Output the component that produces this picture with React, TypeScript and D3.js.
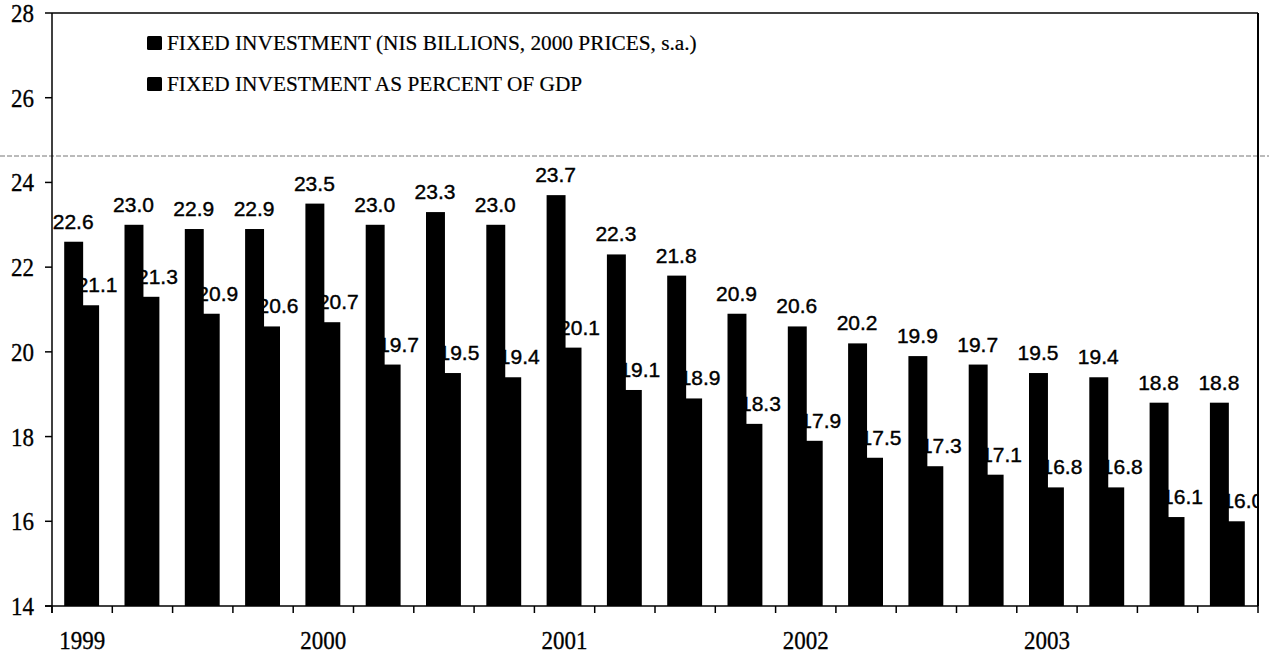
import React from "react";
import * as d3 from "d3";

const categories = [
  "1999Q1", "1999Q2", "1999Q3", "1999Q4",
  "2000Q1", "2000Q2", "2000Q3", "2000Q4",
  "2001Q1", "2001Q2", "2001Q3", "2001Q4",
  "2002Q1", "2002Q2", "2002Q3", "2002Q4",
  "2003Q1", "2003Q2", "2003Q3", "2003Q4",
];
const fixedInvestment = [
  22.6, 23.0, 22.9, 22.9, 23.5, 23.0, 23.3, 23.0, 23.7, 22.3,
  21.8, 20.9, 20.6, 20.2, 19.9, 19.7, 19.5, 19.4, 18.8, 18.8,
];
const investmentPctGdp = [
  21.1, 21.3, 20.9, 20.6, 20.7, 19.7, 19.5, 19.4, 20.1, 19.1,
  18.9, 18.3, 17.9, 17.5, 17.3, 17.1, 16.8, 16.8, 16.1, 16.0,
];
const yearLabels = ["1999", "2000", "2001", "2002", "2003"];
const yearCategories = ["1999Q1", "2000Q1", "2001Q1", "2002Q1", "2003Q1"];
const yTicks = [14, 16, 18, 20, 22, 24, 26, 28];
const seriesNames = [
  "FIXED INVESTMENT (NIS BILLIONS, 2000 PRICES, s.a.)",
  "FIXED INVESTMENT AS PERCENT OF GDP",
];

const W = 1269;
const H = 655;
const left = 52;
const right = 1258;
const top = 13;
const bottom = 606;

const serif = "'Liberation Serif', 'DejaVu Serif', serif";
const sans = "'Liberation Sans', Arial, sans-serif";

export default function App() {
  const x = d3.scaleBand<string>().domain(categories).range([left, right]).padding(0);
  const sub = d3
    .scaleBand<string>()
    .domain(["a", "b"])
    .range([0, x.bandwidth()])
    .paddingInner(0)
    .paddingOuter(0.68);
  const y = d3.scaleLinear().domain([14, 28]).range([bottom, top]);
  const bw = sub.bandwidth();

  const boundaries = categories.map((c) => x(c) as number).concat([right]);

  return (
    <svg
      width={W}
      height={H}
      style={{ position: "absolute", left: 0, top: 0, background: "#fff" }}
    >
      <defs>
        <clipPath id="plotclip">
          <rect x={left} y={0} width={right - left} height={bottom} />
        </clipPath>
      </defs>
      <rect x={0} y={0} width={W} height={H} fill="#fff" />

      {/* scan line */}
      <line x1={0} x2={W} y1={156} y2={156} stroke="#777" strokeWidth={1} strokeDasharray="5,2" />

      {/* series 2 labels (drawn under bars) */}
      <g clipPath="url(#plotclip)">
        {investmentPctGdp.map((v, i) => {
          const cx = (x(categories[i]) as number) + (sub("b") as number) + bw / 2 + 6;
          return (
            <text
              key={"l2" + i}
              x={cx}
              y={y(v) - 13}
              textAnchor="middle"
              fontFamily={sans}
              fontSize={21}
              fill="#000"
              stroke="#000"
              strokeWidth={0.4}
            >
              {v.toFixed(1)}
            </text>
          );
        })}
      </g>

      {/* bars */}
      {fixedInvestment.map((v, i) => (
        <rect
          key={"b1" + i}
          x={(x(categories[i]) as number) + (sub("a") as number)}
          y={y(v)}
          width={bw + 1}
          height={bottom - y(v)}
          fill="#000"
        />
      ))}
      {investmentPctGdp.map((v, i) => (
        <rect
          key={"b2" + i}
          x={(x(categories[i]) as number) + (sub("b") as number)}
          y={y(v)}
          width={bw - 1}
          height={bottom - y(v)}
          fill="#000"
        />
      ))}

      {/* series 1 labels */}
      {fixedInvestment.map((v, i) => (
        <text
          key={"l1" + i}
          x={(x(categories[i]) as number) + (sub("a") as number) + bw / 2}
          y={y(v) - 13}
          textAnchor="middle"
          fontFamily={sans}
          fontSize={21}
          fill="#000"
          stroke="#000"
          strokeWidth={0.4}
        >
          {v.toFixed(1)}
        </text>
      ))}

      {/* frame */}
      <line x1={left} x2={right} y1={top} y2={top} stroke="#000" strokeWidth={1.5} />
      <line x1={right} x2={right} y1={top} y2={bottom} stroke="#000" strokeWidth={2} />
      <line x1={left} x2={left} y1={top} y2={bottom + 7} stroke="#000" strokeWidth={1.5} />
      <line x1={left - 7} x2={right} y1={bottom} y2={bottom} stroke="#000" strokeWidth={1.5} />

      {/* y axis */}
      {yTicks.map((t) => (
        <g key={"yt" + t}>
          <line x1={left - 7} x2={left} y1={y(t)} y2={y(t)} stroke="#000" strokeWidth={1.5} />
          <text
            transform={`translate(34, ${y(t)}) scale(1, 1.12)`}
            textAnchor="end"
            dominantBaseline="central"
            fontFamily={serif}
            fontSize={23}
            fill="#000"
            stroke="#000"
            strokeWidth={0.3}
          >
            {t}
          </text>
        </g>
      ))}

      {/* x ticks */}
      {boundaries.map((bx, i) => (
        <line key={"xt" + i} x1={bx} x2={bx} y1={bottom} y2={bottom + 7} stroke="#000" strokeWidth={1.5} />
      ))}
      {yearLabels.map((lab, i) => (
        <text
          key={"yr" + lab}
          transform={`translate(${(x(yearCategories[i]) as number) + x.bandwidth() / 2}, 649) scale(1, 1.1)`}
          textAnchor="middle"
          fontFamily={serif}
          fontSize={23}
          fill="#000"
          stroke="#000"
          strokeWidth={0.3}
        >
          {lab}
        </text>
      ))}

      {/* legend */}
      {seriesNames.map((name, i) => (
        <g key={"lg" + i}>
          <rect x={147} y={36 + i * 41} width={15} height={14} fill="#000" rx={1.5} />
          <text
            x={167}
            y={50 + i * 41}
            fontFamily={serif}
            fontSize={21.3}
            fill="#000"
            stroke="#000"
            strokeWidth={0.2}
          >
            {name}
          </text>
        </g>
      ))}
    </svg>
  );
}
